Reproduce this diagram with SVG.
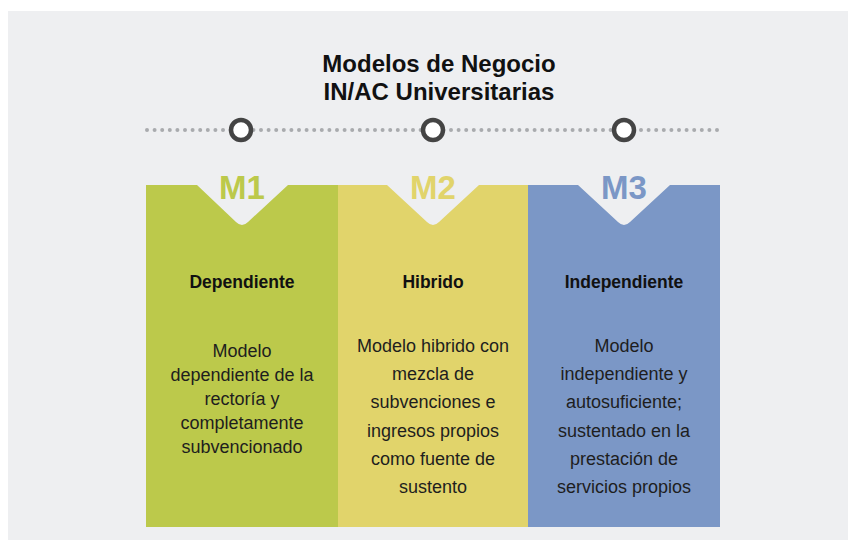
<svg xmlns="http://www.w3.org/2000/svg" width="848" height="540" viewBox="0 0 848 540">
<style>
.title{font-family:"Liberation Sans",Arial,sans-serif;font-weight:bold;font-size:24px;fill:#111;text-anchor:middle}
.m{font-family:"Liberation Sans",Arial,sans-serif;font-weight:bold;font-size:33px;text-anchor:middle}
.h{font-family:"Liberation Sans",Arial,sans-serif;font-weight:bold;font-size:17.5px;fill:#111;text-anchor:middle}
.b{font-family:"Liberation Sans",Arial,sans-serif;font-size:18px;fill:#1e1e1e;text-anchor:middle}
.ring{fill:#fff;stroke:#444;stroke-width:4.5}
</style>
<rect x="0" y="0" width="848" height="540" fill="#ffffff"/>
<rect x="8" y="11" width="840" height="529" fill="#eeeff1"/>
<g id="title">
<text class="title" x="439" y="72">Modelos de Negocio</text>
<text class="title" x="439" y="100">IN/AC Universitarias</text>
</g>
<g id="connectors">
<line x1="147" y1="130" x2="722" y2="130" stroke="#a9abae" stroke-width="4" stroke-linecap="round" stroke-dasharray="0 7.6"/>
</g>
<g id="node-m1">
<path d="M146,185 H197 L236,222 Q242,228 248,222 L288,185 H338 V527 H146 Z" fill="#bcc94b"/>
<text class="m" x="242" y="199" fill="#bcc94b">M1</text>
<circle class="ring" cx="241" cy="130" r="10"/>
<text class="h" x="242" y="288">Dependiente</text>
<text class="b" x="242" y="357">Modelo</text>
<text class="b" x="242" y="381">dependiente de la</text>
<text class="b" x="242" y="405">rectoría y</text>
<text class="b" x="242" y="429">completamente</text>
<text class="b" x="242" y="453">subvencionado</text>
</g>
<g id="node-m2">
<path d="M338,185 H387 L427,222 Q433,228 439,222 L479,185 H528 V527 H338 Z" fill="#e1d46b"/>
<text class="m" x="433" y="199" fill="#e1d46b">M2</text>
<circle class="ring" cx="433" cy="130" r="10"/>
<text class="h" x="433" y="288">Hibrido</text>
<text class="b" x="433" y="352">Modelo hibrido con</text>
<text class="b" x="433" y="380.2">mezcla de</text>
<text class="b" x="433" y="408.4">subvenciones e</text>
<text class="b" x="433" y="436.6">ingresos propios</text>
<text class="b" x="433" y="464.8">como fuente de</text>
<text class="b" x="433" y="493">sustento</text>
</g>
<g id="node-m3">
<path d="M528,185 H578 L618,222 Q624,228 630,222 L670,185 H720 V527 H528 Z" fill="#7b97c6"/>
<text class="m" x="624" y="199" fill="#7b97c6">M3</text>
<circle class="ring" cx="624" cy="130" r="10"/>
<text class="h" x="624" y="288">Independiente</text>
<text class="b" x="624" y="352">Modelo</text>
<text class="b" x="624" y="380.2">independiente y</text>
<text class="b" x="624" y="408.4">autosuficiente;</text>
<text class="b" x="624" y="436.6">sustentado en la</text>
<text class="b" x="624" y="464.8">prestación de</text>
<text class="b" x="624" y="493">servicios propios</text>
</g>
</svg>
